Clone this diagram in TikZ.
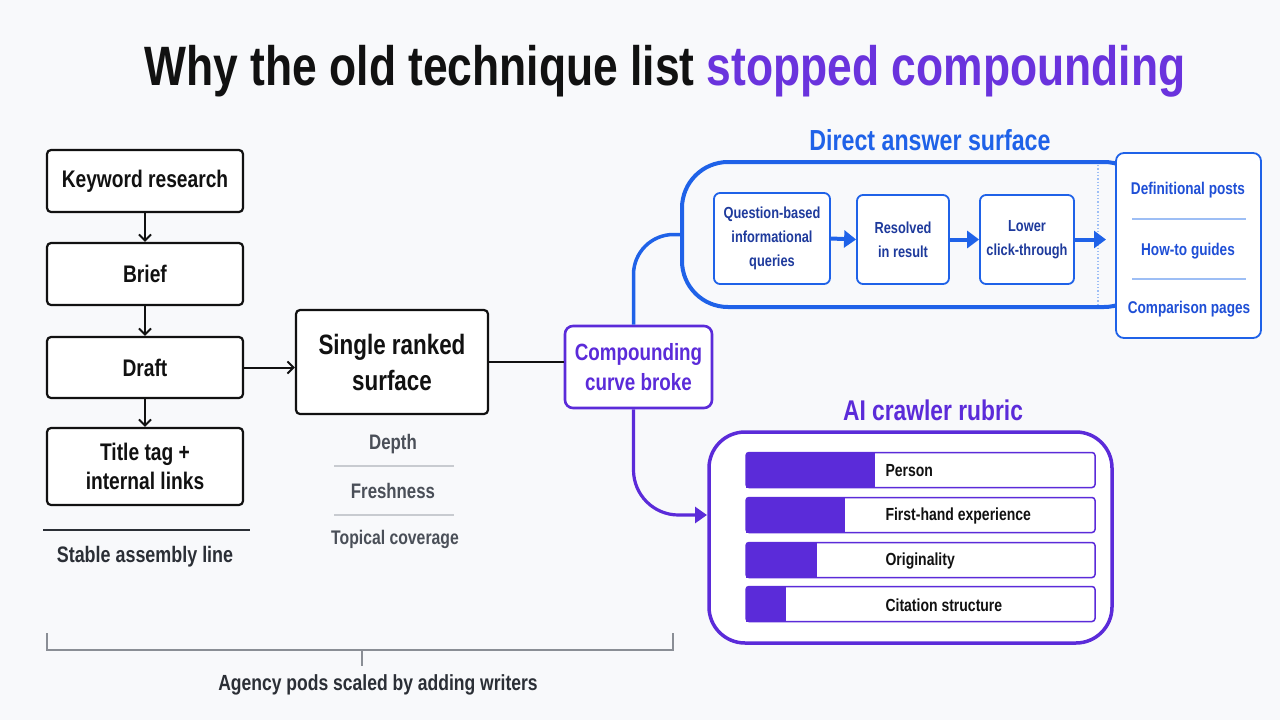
\documentclass[tikz,border=0pt]{standalone}
\usepackage{fontspec}
\setmainfont[FakeStretch=0.8]{Liberation Sans}
\usetikzlibrary{arrows.meta,calc}
\definecolor{bgc}{HTML}{F8F9FB}
\definecolor{ink}{HTML}{111111}
\definecolor{dgray}{HTML}{2B2F36}
\definecolor{mgray}{HTML}{4A4F58}
\definecolor{sepgray}{HTML}{C8CBD0}
\definecolor{brgray}{HTML}{8A8E95}
\definecolor{bl}{HTML}{1F62E8}
\definecolor{navy}{HTML}{1E3A9C}
\definecolor{cardtxt}{HTML}{1F4FD6}
\definecolor{lblue}{HTML}{9DBEF5}
\definecolor{pur}{HTML}{5B2BD9}
\definecolor{tpur}{HTML}{6A33DD}
\tikzset{
  lbox/.style={draw=ink, line width=2.2pt, rounded corners=4pt, fill=white, text=ink, align=center, font=\bfseries\fontsize{24}{29}\selectfont},
  blarrow/.style={draw=ink, line width=2pt, -{Straight Barb[length=6pt,width=12pt,line width=2pt]}},
  qbox/.style={draw=bl, line width=1.8pt, rounded corners=6pt, fill=white, text=navy, align=center, font=\bfseries\fontsize{16}{24}\selectfont},
  thickblue/.style={draw=bl, line width=4pt, -{Triangle[length=12pt,width=17pt]}},
  cardtext/.style={text=cardtxt, font=\bfseries\fontsize{17}{20}\selectfont},
  barlabel/.style={text=ink, anchor=west, font=\bfseries\fontsize{17.5}{20}\selectfont},
  grlabel/.style={text=mgray, font=\bfseries\fontsize{21}{24}\selectfont},
}
\begin{document}
\begin{tikzpicture}[x=1pt,y=-1pt]
\useasboundingbox (0,0) rectangle (1280,720);
\fill[bgc] (0,0) rectangle (1280,720);

% title
\node[text=ink, font=\bfseries\fontsize{55.5}{60}\selectfont] (title) at (665,71)
  {Why the old technique list \textcolor{tpur}{stopped compounding}};

% left column
\node[lbox, minimum width=196, minimum height=62] (kw) at (145,181) {Keyword research};
\node[lbox, minimum width=196, minimum height=62] (br) at (145,274) {Brief};
\node[lbox, minimum width=196, minimum height=61] (dr) at (145,367.5) {Draft};
\node[lbox, minimum width=196, minimum height=77] (tt) at (145,466.5) {Title tag +\\internal links};
\draw[blarrow] (kw.south) -- (br.north);
\draw[blarrow] (br.south) -- (dr.north);
\draw[blarrow] (dr.south) -- (tt.north);
\coordinate (sl1) at (43,530);
\coordinate (sl2) at (250,530);
\draw[draw=dgray, line width=2pt] (sl1) -- (sl2);
\node[text=dgray, font=\bfseries\fontsize{22.4}{26}\selectfont] (sal) at (145,557) {Stable assembly line};

% single ranked surface
\node[lbox, minimum width=192, minimum height=104, font=\bfseries\fontsize{28}{36}\selectfont] (srs) at (392,362) {Single ranked\\surface};
\draw[blarrow] (dr.east) -- (dr.east -| srs.west);
\node[grlabel] (dep) at (393,444) {Depth};
\node[grlabel] (fre) at (393,491) {Freshness};
\node[grlabel, font=\bfseries\fontsize{19.7}{24}\selectfont] (top) at (395,539) {Topical coverage};
\coordinate (s1a) at (334,466); \coordinate (s1b) at (454,466);
\coordinate (s2a) at (334,515); \coordinate (s2b) at (454,515);
\draw[sepgray, line width=1.5pt] (s1a) -- (s1b);
\draw[sepgray, line width=1.5pt] (s2a) -- (s2b);

% compounding box
\node[draw=pur, line width=2.6pt, rounded corners=8pt, fill=white, text=pur, align=center,
  minimum width=147, minimum height=82, font=\bfseries\fontsize{23.5}{30}\selectfont] (cb) at (638.5,367) {Compounding\\curve broke};
\draw[draw=ink, line width=2.2pt] (srs.east) -- (srs.east -| cb.west);

% direct answer surface
\node[text=bl, font=\bfseries\fontsize{29}{32}\selectfont] (dast) at (930,140) {Direct answer surface};
\node[draw=bl, line width=4pt, rounded corners=46pt, minimum width=468, minimum height=145] (das) at (916,234.5) {};
\draw[bl, line width=3.5pt, rounded corners=40pt] ([xshift=-5]cb.north) |- (das.west);
\coordinate (dt1) at (1098,165);
\coordinate (dt2) at (1098,305);
\draw[lblue, line width=1.3pt, dotted] (dt1) -- (dt2);
\node[qbox, minimum width=116, minimum height=91] (qb) at (772,238.5) {Question-based\\informational\\queries};
\node[qbox, minimum width=92, minimum height=89] (rr) at (903,239.5) {Resolved\\in result};
\node[qbox, minimum width=94, minimum height=89] (lc) at (1027,239.5) {Lower\\click-through};
\coordinate (dend) at (1106,239.5);
\draw[thickblue] (qb.east) -- (rr.west);
\draw[thickblue] (rr.east) -- (lc.west);
\draw[thickblue] (lc.east) -- (dend);

% card
\node[draw=bl, line width=1.8pt, rounded corners=8pt, fill=white, minimum width=145, minimum height=185] (card) at (1188.5,245.5) {};
\node[cardtext] (c1) at (1188,190) {Definitional posts};
\node[cardtext] (c2) at (1188,251) {How-to guides};
\node[cardtext] (c3) at (1189,309) {Comparison pages};
\coordinate (cs1a) at (1132,219); \coordinate (cs1b) at (1246,219);
\coordinate (cs2a) at (1132,279); \coordinate (cs2b) at (1246,279);
\draw[lblue, line width=1.2pt] (cs1a) -- (cs1b);
\draw[lblue, line width=1.2pt] (cs2a) -- (cs2b);

% AI crawler rubric
\node[text=pur, font=\bfseries\fontsize{28.5}{32}\selectfont] (airt) at (933,410) {AI crawler rubric};
\node[draw=pur, line width=3.5pt, rounded corners=36pt, fill=white, minimum width=403, minimum height=211] (rub) at (910.5,537.5) {};
\coordinate (rubin) at (707,515);
\draw[pur, line width=3.2pt, rounded corners=45pt, -{Triangle[length=12pt,width=16pt]}] ([xshift=-5]cb.south) |- (rubin);

\foreach \yc/\xe/\lab/\nm in {470/875/Person/b1, 515/845/First-hand experience/b2, 560/817/Originality/b3, 604/786/Citation structure/b4}{
  \fill[pur] (746,\yc-17.5) rectangle (\xe,\yc+17.5);
  \node[draw=pur, line width=1.5pt, rounded corners=3pt, minimum width=349, minimum height=35, inner sep=0pt] (\nm) at (920.5,\yc) {};
  \node[barlabel] (\nm t) at (882,\yc+1) {\lab};
}

% bracket
\coordinate (k1) at (47,633); \coordinate (k2) at (47,650);
\coordinate (k3) at (673,650); \coordinate (k4) at (673,633);
\coordinate (m1) at (362,650); \coordinate (m2) at (362,666);
\draw[brgray, line width=2pt] (k1) -- (k2) -- (k3) -- (k4);
\draw[brgray, line width=2pt] (m1) -- (m2);
\node[text=dgray, font=\bfseries\fontsize{21.9}{26}\selectfont] (agp) at (378,685) {Agency pods scaled by adding writers};
\end{tikzpicture}
\end{document}
